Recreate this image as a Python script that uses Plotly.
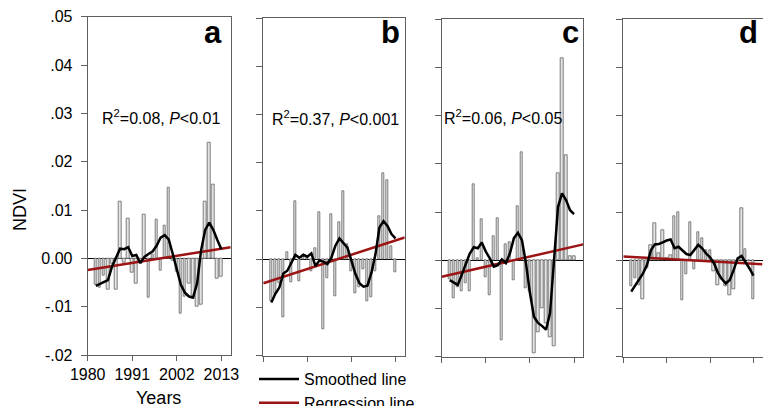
import plotly.graph_objects as go

# Annual NDVI anomalies, 1982-2013
years = list(range(1982, 2014))

ndvi_a = [-0.0055, -0.0060, -0.0035, -0.0065, -0.0012, -0.0065, 0.0117, -0.0008,
          0.0083, -0.0030, -0.0053, -0.0008, 0.0091, -0.0082, 0.0008, 0.0079,
          -0.0025, 0.0067, 0.0147, -0.0004, -0.0028, -0.0114, -0.0080, -0.0052,
          -0.0083, -0.0100, -0.0095, 0.0117, 0.0239, 0.0153, -0.0043, -0.0039]
ndvi_b = [-0.0087, -0.0072, -0.0050, -0.0121, 0.0014, -0.0047, 0.0120, -0.0046,
          0.0007, 0.0006, -0.0025, 0.0023, 0.0097, -0.0145, -0.0040, 0.0094,
          -0.0078, 0.0076, 0.0141, 0.0030, -0.0025, -0.0070, -0.0058, -0.0022,
          -0.0087, -0.0080, -0.0025, 0.0088, 0.0179, 0.0163, 0.0027, -0.0028]
ndvi_c = [-0.0040, -0.0079, -0.0055, -0.0065, -0.0048, -0.0065, 0.0158, 0.0004,
          0.0086, -0.0035, -0.0072, 0.0049, 0.0087, -0.0166, 0.0033, 0.0037,
          -0.0041, 0.0113, 0.0224, -0.0059, -0.0065, -0.0193, -0.0150, -0.0100,
          -0.0130, -0.0160, -0.0178, 0.0180, 0.0419, 0.0217, 0.0009, 0.0009]
ndvi_d = [-0.0053, -0.0037, -0.0051, -0.0080, -0.0017, 0.0032, 0.0077, 0.0014,
          0.0063, 0.0005, 0.0010, 0.0092, 0.0099, -0.0083, -0.0030, 0.0079,
          -0.0019, 0.0059, 0.0046, 0.0021, 0.0020, -0.0022, -0.0052, -0.0040,
          -0.0054, -0.0072, -0.0060, -0.0003, 0.0108, 0.0023, -0.0003, -0.0080]

# Smoothed series
smooth_a = [-0.0057, -0.0053, -0.0050, -0.0045, -0.0017, 0.0003, 0.0020, 0.0019,
            0.0023, 0.0005, 0.0007, -0.0010, 0.0003, 0.0009, 0.0014, 0.0026,
            0.0043, 0.0048, 0.0039, 0.0009, -0.0024, -0.0055, -0.0071, -0.0079,
            -0.0081, -0.0052, 0.0017, 0.0059, 0.0074, 0.0059, 0.0038, 0.0019]
smooth_b = [-0.0090, -0.0072, -0.0059, -0.0030, -0.0024, -0.0007, 0.0009, 0.0003,
            0.0009, 0.0005, 0.0012, -0.0014, -0.0003, -0.0005, -0.0010, 0.0003,
            0.0028, 0.0043, 0.0034, 0.0024, -0.0003, -0.0031, -0.0050, -0.0057,
            -0.0055, -0.0028, 0.0010, 0.0066, 0.0079, 0.0069, 0.0052, 0.0043]
smooth_c = [-0.0041, -0.0046, -0.0051, -0.0030, -0.0006, 0.0014, 0.0027, 0.0025,
            0.0037, 0.0018, 0.0004, -0.0013, -0.0010, 0.0002, -0.0006, 0.0014,
            0.0046, 0.0057, 0.0042, -0.0006, -0.0068, -0.0117, -0.0130, -0.0136,
            -0.0144, -0.0110, 0.0000, 0.0111, 0.0139, 0.0125, 0.0104, 0.0096]
smooth_d = [-0.0065, -0.0053, -0.0041, -0.0027, -0.0010, 0.0021, 0.0033, 0.0034,
            0.0037, 0.0041, 0.0043, 0.0025, 0.0028, 0.0020, 0.0013, 0.0011,
            0.0021, 0.0032, 0.0025, 0.0014, 0.0006, -0.0006, -0.0026, -0.0039,
            -0.0048, -0.0041, -0.0020, 0.0004, 0.0009, -0.0003, -0.0017, -0.0032]

# Linear trend, evaluated at the two ends of the year axis
x_range = [1980, 2015.3]
reg_a = [-0.0024, 0.0023]
reg_b = [-0.0050, 0.0045]
reg_c = [-0.0034, 0.0033]
reg_d = [0.0008, -0.0008]

stats_text = ["R<sup>2</sup>=0.08, <i>P</i>&lt;0.01",
              "R<sup>2</sup>=0.37, <i>P</i>&lt;0.001",
              "R<sup>2</sup>=0.06, <i>P</i>&lt;0.05",
              None]
stats_pos = [(1998.0, 0.0292), (1997.9, 0.0293), (1995.2, 0.0297), None]
panel_letters = ["a", "b", "c", "d"]

x_ticks = [1980, 1991, 2002, 2013]
y_ticks = [-0.02, -0.01, 0.0, 0.01, 0.02, 0.03, 0.04, 0.05]
y_ticktext = ["-.02", "-.01", "0.00", ".01", ".02", ".03", ".04", ".05"]

W, H = 763, 406
FONT = "Liberation Sans, Arial, sans-serif"
AXIS_COLOR = "#5f5f5f"

# panel frames in pixels: (left, right, top, bottom)
frames = [(87.7, 230.7, 16.7, 355.0),
          (263.3, 404.7, 18.3, 355.5),
          (441.7, 583.3, 19.3, 356.7),
          (623.3, 762.5, 19.3, 356.7)]
letter_right = [223.5, 402.5, 580.5, 759.5]

bars = [ndvi_a, ndvi_b, ndvi_c, ndvi_d]
smooths = [smooth_a, smooth_b, smooth_c, smooth_d]
regs = [reg_a, reg_b, reg_c, reg_d]

fig = go.Figure()
annotations = []
for i in range(4):
    xa = "x" if i == 0 else f"x{i+1}"
    ya = "y" if i == 0 else f"y{i+1}"
    fig.add_trace(go.Bar(x=years, y=bars[i], width=0.62, xaxis=xa, yaxis=ya,
                         marker=dict(color="#e4e4e4",
                                     line=dict(color="#7d7d7d", width=1)),
                         showlegend=False, hoverinfo="x+y"))
    fig.add_trace(go.Scatter(x=x_range, y=regs[i], mode="lines", xaxis=xa, yaxis=ya,
                             line=dict(color="#9c1414", width=2.5),
                             name="Regression line", legendrank=2,
                             showlegend=(i == 0)))
    fig.add_trace(go.Scatter(x=years, y=smooths[i], mode="lines", xaxis=xa, yaxis=ya,
                             line=dict(color="black", width=2.5),
                             name="Smoothed line", legendrank=1,
                             showlegend=(i == 0)))

    l, r, t, b = frames[i]
    common = dict(showline=True, linecolor=AXIS_COLOR, linewidth=1, mirror=True,
                  ticks="outside", tickcolor=AXIS_COLOR, showgrid=False,
                  tickfont=dict(family=FONT, size=16, color="black"))
    fig.layout[f"xaxis{'' if i == 0 else i+1}"] = dict(
        domain=[l / W, r / W], range=x_range, anchor=ya, tickvals=x_ticks,
        showticklabels=(i == 0), ticklen=5, zeroline=False, **common)
    fig.layout[f"yaxis{'' if i == 0 else i+1}"] = dict(
        domain=[1 - b / H, 1 - t / H], range=[-0.02, 0.05], anchor=xa,
        tickvals=y_ticks, ticktext=y_ticktext, showticklabels=(i == 0), ticklen=6,
        ticklabelstandoff=5,
        zeroline=True, zerolinecolor="black", zerolinewidth=1, **common)

    annotations.append(dict(text=f"<b>{panel_letters[i]}</b>", xref="paper", yref="paper",
                            x=letter_right[i] / W, y=1 - 33 / H, xanchor="right",
                            yanchor="middle", showarrow=False,
                            font=dict(family=FONT, size=31, color="black")))
    if stats_text[i]:
        sx, sy = stats_pos[i]
        annotations.append(dict(text=stats_text[i], xref=xa, yref=ya, x=sx, y=sy,
                                xanchor="center", yanchor="middle", showarrow=False,
                                font=dict(family=FONT, size=16, color="black")))

annotations.append(dict(text="NDVI", textangle=-90, xref="paper", yref="paper",
                        x=20 / W, y=1 - 210 / H, xanchor="center", yanchor="middle",
                        showarrow=False, font=dict(family=FONT, size=18, color="black")))
annotations.append(dict(text="Years", xref="paper", yref="paper",
                        x=158.5 / W, y=1 - 398 / H, xanchor="center", yanchor="middle",
                        showarrow=False, font=dict(family=FONT, size=18, color="black")))

fig.update_layout(
    width=W, height=H, margin=dict(l=0, r=0, t=0, b=0, autoexpand=False),
    paper_bgcolor="white", plot_bgcolor="white", bargap=0,
    annotations=annotations,
    legend=dict(x=254 / W, y=1 - 362 / H, xanchor="left", yanchor="top",
                maxheight=120, itemwidth=40,
                font=dict(family=FONT, size=16, color="black"),
                bgcolor="rgba(0,0,0,0)", tracegroupgap=0),
    font=dict(family=FONT),
)

fig.write_html("out.html")
